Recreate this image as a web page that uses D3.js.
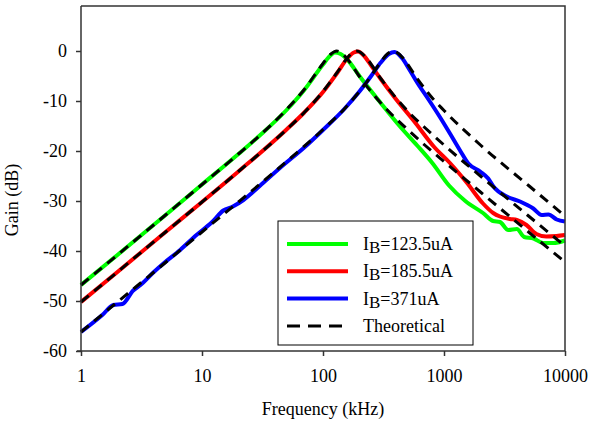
<!DOCTYPE html>
<html><head><meta charset="utf-8">
<script src="https://cdn.jsdelivr.net/npm/d3@7/dist/d3.min.js"></script>
<style>
html,body{margin:0;padding:0;background:#fff;}
svg text{font-family:"Liberation Serif","Times New Roman",serif;fill:#000;}
</style></head>
<body><svg id="c" width="596" height="425"></svg>
<script>
// ---- data ----
const xTicks = [1, 10, 100, 1000, 10000];
const yTicks = [0, -10, -20, -30, -40, -50, -60];

const greenFreq = [1,2,5,10,20,30,50,70,100,115,125,140,160,200,300,433,600,800,1100,1500,2100,2550,2900,3400,4000,4600,5500,6600,8000,10000];
const greenGain = [-46.8,-40.8,-32.8,-26.7,-20.6,-16.9,-11.8,-7.8,-2.7,-0.9,-0.3,-0.6,-1.8,-5.0,-10.4,-15.1,-18.9,-22.4,-26.9,-30.0,-32.4,-34.0,-34.2,-35.8,-35.6,-37.2,-37.5,-38.4,-38.4,-37.9];

const redFreq = [1,2,5,10,20,50,70,100,130,160,180,195,215,250,300,400,560,830,1120,1540,2100,2550,2900,3500,4000,4800,5800,7000,8500,10000];
const redGain = [-50.2,-44.2,-36.2,-30.2,-24.1,-15.7,-12.3,-8.2,-4.5,-1.4,-0.3,-0.1,-0.8,-2.9,-5.6,-9.6,-13.9,-19.2,-22.4,-26.3,-30.5,-32.4,-33.1,-33.6,-33.8,-34.8,-36.6,-37.1,-37.0,-36.8];

const blueFreq = [1,1.5,1.85,2.2,2.7,3.1,4,4.8,6.6,9,12,15,18,22,30,44,70,100,150,200,250,300,350,390,450,520,600,750,930,1120,1350,1590,1990,2320,2560,3300,4250,5470,6420,7290,8540,10000];
const blueGain = [-56.2,-52.8,-50.8,-50.6,-47.9,-46.8,-44.2,-42.5,-39.8,-36.8,-34.3,-31.9,-31.1,-29.8,-27.0,-23.4,-19.3,-15.8,-11.6,-8.1,-5.0,-2.3,-0.6,-0.2,-1.4,-3.8,-6.3,-9.8,-13.3,-16.5,-19.8,-22.5,-24.1,-25.5,-27.1,-29.1,-30.1,-31.5,-32.8,-32.7,-33.7,-34.1];

const theoGreenFreq = [1,2,5,10,20,30,50,70,100,115,130,145,160,200,300,500,700,1000,2000,5000,10000];
const theoGreenGain = [-46.8,-40.8,-32.8,-26.7,-20.6,-16.9,-11.7,-7.7,-2.5,-0.7,0,-0.6,-1.7,-5.1,-10.4,-15.7,-18.9,-22.1,-28.2,-36.2,-42.2];

const theoRedFreq = [1,2,5,10,20,50,70,100,130,160,175,190,205,230,300,500,700,1000,2000,5000,10000];
const theoRedGain = [-50.2,-44.2,-36.2,-30.2,-24.1,-15.7,-12.3,-8.1,-4.4,-1.3,-0.3,0,-0.3,-1.5,-5.5,-12.0,-15.4,-18.8,-25.0,-33.0,-39.0];

const theoBlueFreq = [1,2,5,10,20,50,100,150,200,250,300,340,381,420,450,600,800,1000,2000,5000,10000];
const theoBlueGain = [-56.2,-50.2,-42.3,-36.2,-30.2,-22.1,-15.7,-11.6,-8.1,-5.0,-2.2,-0.6,0,-0.5,-1.2,-5.5,-9.4,-11.9,-18.8,-26.9,-33.0];

const seriesNames = ["I_B=123.5uA","I_B=185.5uA","I_B=371uA","Theoretical"];
const seriesColors = ["#00ff00","#ff0000","#0000ff","#000000"];

// ---- chart ----
const svg = d3.select("#c");
const L = 81, R = 565, T = 6, B = 351;
const x = d3.scaleLog().domain([1, 10000]).range([L, R]);
const y = d3.scaleLinear().domain([-60, 9]).range([B, T]);

const zip = (f, g) => f.map((v, i) => [v, g[i]]);
const line = d3.line().x(d => x(d[0])).y(d => y(d[1])).curve(d3.curveMonotoneX);

const g = svg.append("g");
const measured = [
  [zip(greenFreq, greenGain), seriesColors[0]],
  [zip(redFreq, redGain), seriesColors[1]],
  [zip(blueFreq, blueGain), seriesColors[2]]
];
measured.forEach(([d, c]) => {
  g.append("path").attr("d", line(d)).attr("fill", "none").attr("stroke", c)
    .attr("stroke-width", 4).attr("stroke-linejoin", "round");
});
[zip(theoGreenFreq, theoGreenGain), zip(theoRedFreq, theoRedGain), zip(theoBlueFreq, theoBlueGain)].forEach(d => {
  g.append("path").attr("d", line(d)).attr("fill", "none").attr("stroke", "#000")
    .attr("stroke-width", 3).attr("stroke-dasharray", "10,7");
});

// frame
svg.append("path").attr("d", `M${L},${T}H${R}V${B}`).attr("fill", "none").attr("stroke", "#333").attr("stroke-width", 1.5);

const fmt = d => String(d);
const xAxis = svg.append("g").attr("transform", `translate(0,${B})`)
  .call(d3.axisBottom(x).tickValues(xTicks).tickFormat(fmt).tickSize(5).tickSizeOuter(0).tickPadding(13));
const yAxis = svg.append("g").attr("transform", `translate(${L},0)`)
  .call(d3.axisLeft(y).tickValues(yTicks).tickFormat(fmt).tickSize(5).tickSizeOuter(0).tickPadding(9));
[xAxis, yAxis].forEach(a => {
  a.attr("font-family", "Liberation Serif").attr("font-size", 18);
  a.selectAll("path,line").attr("stroke", "#333").attr("stroke-width", 1.5);
  a.selectAll("text").attr("fill", "#000");
});
yAxis.select(".domain").attr("d", `M0,${T}V${B}`);
xAxis.select(".domain").attr("d", `M${L - 4},0H${R}`);

svg.append("text").attr("x", (L + R) / 2).attr("y", 415).attr("text-anchor", "middle")
  .attr("font-size", 18).text("Frequency (kHz)");
svg.append("text").attr("transform", "translate(18,200) rotate(-90)").attr("text-anchor", "middle")
  .attr("font-size", 18).text("Gain (dB)");

// legend
const lg = svg.append("g");
lg.append("rect").attr("x", 278).attr("y", 221).attr("width", 195).attr("height", 124)
  .attr("fill", "#fff").attr("stroke", "#000").attr("stroke-width", 1);
seriesNames.forEach((name, i) => {
  const yy = 244 + i * 27.3;
  lg.append("line").attr("x1", 287).attr("x2", 348).attr("y1", yy).attr("y2", yy)
    .attr("stroke", seriesColors[i]).attr("stroke-width", i < 3 ? 4 : 3)
    .attr("stroke-dasharray", i < 3 ? null : "13,8");
  const t = lg.append("text").attr("x", 363).attr("y", yy + 6).attr("font-size", 18);
  if (name.startsWith("I_")) {
    const rest = name.slice(3);
    t.append("tspan").text("I");
    t.append("tspan").attr("dy", 3).attr("font-size", 17).text("B");
    t.append("tspan").attr("dy", -3).text(rest);
  } else {
    t.text(name);
  }
});
</script></body></html>
